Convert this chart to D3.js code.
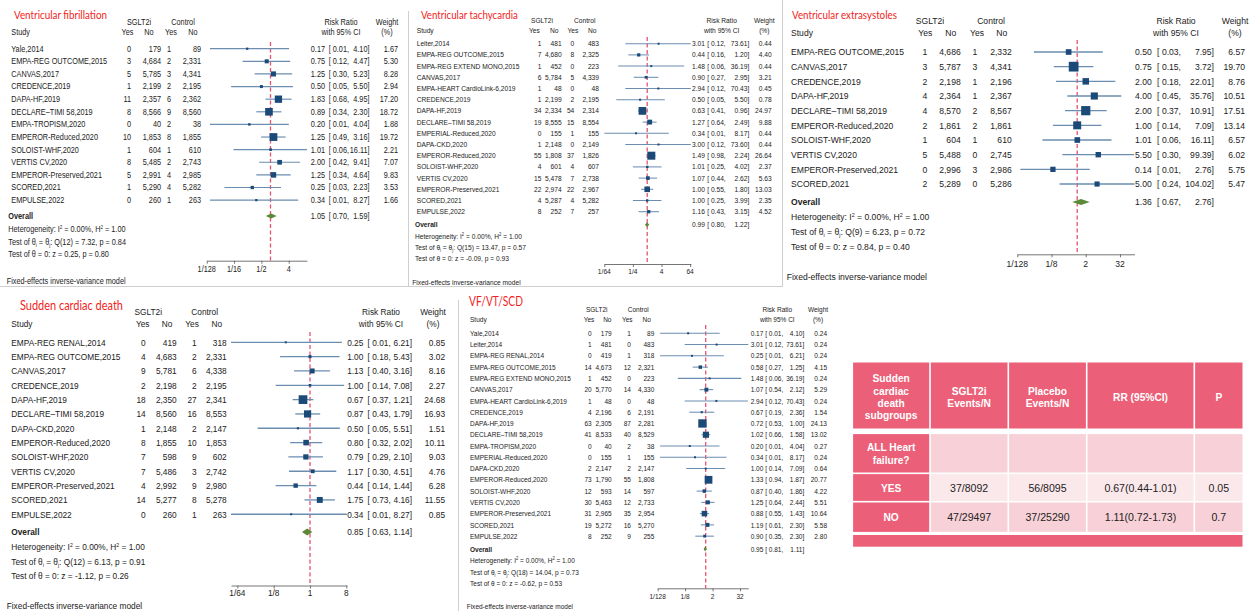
<!DOCTYPE html>
<html>
<head>
<meta charset="utf-8">
<script src="https://cdn.jsdelivr.net/npm/d3@7"></script>
<style>
  html, body { margin: 0; padding: 0; background: #fff; }
  svg { display: block; }
</style>
</head>
<body>
<svg id="chart" width="1255" height="611"></svg>
<script>
// ---------------- Ventricular fibrillation ----------------
const vfStudy = ["Yale,2014", "EMPA-REG OUTCOME,2015", "CANVAS,2017", "CREDENCE,2019", "DAPA-HF,2019",
  "DECLARE\u2013TIMI 58,2019", "EMPA-TROPISM,2020", "EMPEROR-Reduced,2020", "SOLOIST-WHF,2020",
  "VERTIS CV,2020", "EMPEROR-Preserved,2021", "SCORED,2021", "EMPULSE,2022"];
const vfSglt2iYes = [0, 3, 5, 1, 11, 8, 0, 10, 1, 8, 5, 1, 0];
const vfSglt2iNo = [179, 4684, 5785, 2199, 2357, 8566, 40, 1853, 604, 5485, 2991, 5290, 260];
const vfControlYes = [1, 2, 3, 2, 6, 9, 2, 8, 1, 2, 4, 4, 1];
const vfControlNo = [89, 2331, 4341, 2195, 2362, 8560, 38, 1855, 610, 2743, 2985, 5282, 263];
const vfRR = [0.17, 0.75, 1.25, 0.50, 1.83, 0.89, 0.20, 1.25, 1.01, 2.00, 1.25, 0.25, 0.34];
const vfLower = [0.01, 0.12, 0.30, 0.05, 0.68, 0.34, 0.01, 0.49, 0.06, 0.42, 0.34, 0.03, 0.01];
const vfUpper = [4.10, 4.47, 5.23, 5.50, 4.95, 2.30, 4.04, 3.16, 16.11, 9.41, 4.64, 2.23, 8.27];
const vfWeight = [1.67, 5.30, 8.28, 2.94, 17.20, 18.72, 1.88, 19.72, 2.21, 7.07, 9.83, 3.53, 1.66];
const vfOverall = [1.05, 0.70, 1.59];
const vfHeterogeneity = [0.00, 1.00];
const vfQTest = [12, 7.32, 0.84];
const vfZTest = [0.25, 0.80];
const vfTickLabels = ["1/128", "1/16", "1/2", "4"];

// ---------------- Ventricular tachycardia ----------------
const vtStudy = ["Leiter,2014", "EMPA-REG OUTCOME,2015", "EMPA-REG EXTEND MONO,2015", "CANVAS,2017",
  "EMPA-HEART CardioLink-6,2019", "CREDENCE,2019", "DAPA-HF,2019", "DECLARE\u2013TIMI 58,2019",
  "EMPERIAL-Reduced,2020", "DAPA-CKD,2020", "EMPEROR-Reduced,2020", "SOLOIST-WHF,2020",
  "VERTIS CV,2020", "EMPEROR-Preserved,2021", "SCORED,2021", "EMPULSE,2022"];
const vtSglt2iYes = [1, 7, 1, 6, 1, 1, 34, 19, 0, 1, 55, 4, 15, 22, 4, 8];
const vtSglt2iNo = [481, 4680, 452, 5784, 48, 2199, 2334, 8555, 155, 2148, 1808, 601, 5478, 2974, 5287, 252];
const vtControlYes = [0, 8, 0, 5, 0, 2, 54, 15, 1, 0, 37, 4, 7, 22, 4, 7];
const vtControlNo = [483, 2325, 223, 4339, 48, 2195, 2314, 8554, 155, 2149, 1826, 607, 2738, 2967, 5282, 257];
const vtRR = [3.01, 0.44, 1.48, 0.90, 2.94, 0.50, 0.63, 1.27, 0.34, 3.00, 1.49, 1.01, 1.07, 1.00, 1.00, 1.16];
const vtLower = [0.12, 0.16, 0.06, 0.27, 0.12, 0.05, 0.41, 0.64, 0.01, 0.12, 0.98, 0.25, 0.44, 0.55, 0.25, 0.43];
const vtUpper = [73.61, 1.20, 36.19, 2.95, 70.43, 5.50, 0.96, 2.49, 8.17, 73.60, 2.24, 4.02, 2.62, 1.80, 3.99, 3.15];
const vtWeight = [0.44, 4.40, 0.44, 3.21, 0.45, 0.78, 24.97, 9.88, 0.44, 0.44, 26.64, 2.37, 5.63, 13.03, 2.35, 4.52];
const vtOverall = [0.99, 0.80, 1.22];
const vtHeterogeneity = [0.00, 1.00];
const vtQTest = [15, 13.47, 0.57];
const vtZTest = [-0.09, 0.93];
const vtTickLabels = ["1/64", "1/4", "4", "64"];

// ---------------- Ventricular extrasystoles ----------------
const veStudy = ["EMPA-REG OUTCOME,2015", "CANVAS,2017", "CREDENCE,2019", "DAPA-HF,2019",
  "DECLARE\u2013TIMI 58,2019", "EMPEROR-Reduced,2020", "SOLOIST-WHF,2020", "VERTIS CV,2020",
  "EMPEROR-Preserved,2021", "SCORED,2021"];
const veSglt2iYes = [1, 3, 2, 4, 4, 2, 1, 5, 0, 2];
const veSglt2iNo = [4686, 5787, 2198, 2364, 8570, 1861, 604, 5488, 2996, 5289];
const veControlYes = [1, 3, 1, 1, 2, 2, 1, 0, 3, 0];
const veControlNo = [2332, 4341, 2196, 2367, 8567, 1861, 610, 2745, 2986, 5286];
const veRR = [0.50, 0.75, 2.00, 4.00, 2.00, 1.00, 1.01, 5.50, 0.14, 5.00];
const veLower = [0.03, 0.15, 0.18, 0.45, 0.37, 0.14, 0.06, 0.30, 0.01, 0.24];
const veUpper = [7.95, 3.72, 22.01, 35.76, 10.91, 7.09, 16.11, 99.39, 2.76, 104.02];
const veWeight = [6.57, 19.70, 8.76, 10.51, 17.51, 13.14, 6.57, 6.02, 5.75, 5.47];
const veOverall = [1.36, 0.67, 2.76];
const veHeterogeneity = [0.00, 1.00];
const veQTest = [9, 6.23, 0.72];
const veZTest = [0.84, 0.40];
const veTickLabels = ["1/128", "1/8", "2", "32"];

// ---------------- Sudden cardiac death ----------------
const scdStudy = ["EMPA-REG RENAL,2014", "EMPA-REG OUTCOME,2015", "CANVAS,2017", "CREDENCE,2019",
  "DAPA-HF,2019", "DECLARE\u2013TIMI 58,2019", "DAPA-CKD,2020", "EMPEROR-Reduced,2020",
  "SOLOIST-WHF,2020", "VERTIS CV,2020", "EMPEROR-Preserved,2021", "SCORED,2021", "EMPULSE,2022"];
const scdSglt2iYes = [0, 4, 9, 2, 18, 14, 1, 8, 7, 7, 4, 14, 0];
const scdSglt2iNo = [419, 4683, 5781, 2198, 2350, 8560, 2148, 1855, 598, 5486, 2992, 5277, 260];
const scdControlYes = [1, 2, 6, 2, 27, 16, 2, 10, 9, 3, 9, 8, 1];
const scdControlNo = [318, 2331, 4338, 2195, 2341, 8553, 2147, 1853, 602, 2742, 2980, 5278, 263];
const scdRR = [0.25, 1.00, 1.13, 1.00, 0.67, 0.87, 0.50, 0.80, 0.79, 1.17, 0.44, 1.75, 0.34];
const scdLower = [0.01, 0.18, 0.40, 0.14, 0.37, 0.43, 0.05, 0.32, 0.29, 0.30, 0.14, 0.73, 0.01];
const scdUpper = [6.21, 5.43, 3.16, 7.08, 1.21, 1.79, 5.51, 2.02, 2.10, 4.51, 1.44, 4.16, 8.27];
const scdWeight = [0.85, 3.02, 8.16, 2.27, 24.68, 16.93, 1.51, 10.11, 9.03, 4.76, 6.28, 11.55, 0.85];
const scdOverall = [0.85, 0.63, 1.14];
const scdHeterogeneity = [0.00, 1.00];
const scdQTest = [12, 6.13, 0.91];
const scdZTest = [-1.12, 0.26];
const scdTickLabels = ["1/64", "1/8", "1", "8"];

// ---------------- VF/VT/SCD composite ----------------
const compStudy = ["Yale,2014", "Leiter,2014", "EMPA-REG RENAL,2014", "EMPA-REG OUTCOME,2015",
  "EMPA-REG EXTEND MONO,2015", "CANVAS,2017", "EMPA-HEART CardioLink-6,2019", "CREDENCE,2019",
  "DAPA-HF,2019", "DECLARE\u2013TIMI 58,2019", "EMPA-TROPISM,2020", "EMPERIAL-Reduced,2020",
  "DAPA-CKD,2020", "EMPEROR-Reduced,2020", "SOLOIST-WHF,2020", "VERTIS CV,2020",
  "EMPEROR-Preserved,2021", "SCORED,2021", "EMPULSE,2022"];
const compSglt2iYes = [0, 1, 0, 14, 1, 20, 1, 4, 63, 41, 0, 0, 2, 73, 12, 30, 31, 19, 8];
const compSglt2iNo = [179, 481, 419, 4673, 452, 5770, 48, 2196, 2305, 8533, 40, 155, 2147, 1790, 593, 5463, 2965, 5272, 252];
const compControlYes = [1, 0, 1, 12, 0, 14, 0, 6, 87, 40, 2, 1, 2, 55, 14, 12, 35, 16, 9];
const compControlNo = [89, 483, 318, 2321, 223, 4330, 48, 2191, 2281, 8529, 38, 155, 2147, 1808, 597, 2733, 2954, 5270, 255];
const compRR = [0.17, 3.01, 0.25, 0.58, 1.48, 1.07, 2.94, 0.67, 0.72, 1.02, 0.20, 0.34, 1.00, 1.33, 0.87, 1.25, 0.88, 1.19, 0.90];
const compLower = [0.01, 0.12, 0.01, 0.27, 0.06, 0.54, 0.12, 0.19, 0.53, 0.66, 0.01, 0.01, 0.14, 0.94, 0.40, 0.64, 0.55, 0.61, 0.35];
const compUpper = [4.10, 73.61, 6.21, 1.25, 36.19, 2.12, 70.43, 2.36, 1.00, 1.58, 4.04, 8.17, 7.09, 1.87, 1.86, 2.44, 1.43, 2.30, 2.30];
const compWeight = [0.24, 0.24, 0.24, 4.15, 0.24, 5.29, 0.24, 1.54, 24.13, 13.02, 0.27, 0.24, 0.64, 20.77, 4.22, 5.51, 10.64, 5.58, 2.80];
const compOverall = [0.95, 0.81, 1.11];
const compHeterogeneity = [0.00, 1.00];
const compQTest = [18, 14.04, 0.73];
const compZTest = [-0.62, 0.53];
const compTickLabels = ["1/128", "1/8", "2", "32"];

// ---------------- Sudden cardiac death subgroup table ----------------
const tableHeader = [["Sudden", "cardiac", "death", "subgroups"], ["SGLT2i", "Events/N"], ["Placebo", "Events/N"], ["RR (95%CI)"], ["P"]];
const subgroupLabels = [["ALL Heart", "failure?"], ["YES"], ["NO"]];
const sglt2iEventsN = ["", "37/8092", "47/29497"];
const placeboEventsN = ["", "56/8095", "37/25290"];
const subgroupRR = ["", "0.67(0.44-1.01)", "1.11(0.72-1.73)"];
const subgroupP = ["", "0.05", "0.7"];

// ---------------- drawing ----------------
const SANS = "'Liberation Sans', Arial, Helvetica, sans-serif";
const TITLE_FONT = "Lato, 'Open Sans', sans-serif";
const INK = "#222";
const TITLE_RED = "#f21d1d";
const NULL_RED = "#e4546f";
const NAVY = "#1c4a78";
const CI_BLUE = "#6b8eb0";
const DIAMOND = "#5a8a35";
const RULE = "#cfcfcf";

const svg = d3.select("#chart");
// plain hyphen-minus for negative statistics
const locale = d3.formatLocale({ decimal: ".", thousands: ",", grouping: [3], currency: ["", ""], minus: "-" });
const fmt2 = locale.format(".2f");
const fmtN = locale.format(",");

function measure(s, fs, family, weight) {
  const t = svg.append("text").style("font-family", family).style("font-size", fs + "px")
    .style("font-weight", weight || "normal").text(s);
  const w = t.node().getComputedTextLength();
  t.remove();
  return w;
}

function addText(g, x, y, s, o) {
  return g.append("text")
    .attr("transform", `translate(${x},${y}) scale(${o.sx || 1},1)`)
    .attr("text-anchor", o.anchor || "start")
    .attr("y", 0.35 * o.fs)
    .style("font-family", o.family || SANS)
    .style("font-size", o.fs + "px")
    .style("font-weight", o.weight || "normal")
    .attr("fill", o.fill || INK)
    .text(s);
}

// text with superscripts / subscripts, parts = [[string, "sup" | "sub" | null], ...]
function addRich(g, x, y, parts, o) {
  const t = g.append("text")
    .attr("transform", `translate(${x},${y}) scale(${o.sx || 1},1)`)
    .attr("y", 0.35 * o.fs)
    .style("font-family", SANS)
    .style("font-size", o.fs + "px")
    .attr("fill", INK);
  let shift = 0;
  parts.forEach(([s, kind]) => {
    const target = kind === "sup" ? -0.4 * o.fs : kind === "sub" ? 0.22 * o.fs : 0;
    t.append("tspan").attr("dy", target - shift)
      .style("font-size", kind ? (0.62 * o.fs) + "px" : null).text(s);
    shift = target;
  });
  return t;
}

function tickValue(label) {
  const p = label.split("/").map(Number);
  return p.length === 2 ? p[0] / p[1] : p[0];
}

function drawForest(L, D) {
  const g = svg.append("g");
  const sx = L.refW / measure(L.refText, L.fs, SANS);
  const T = (x, y, s, anchor, extra) =>
    addText(g, x, y, s, Object.assign({ fs: L.fs, sx, anchor }, extra || {}));

  // title
  const tsx = L.titleW / measure(L.title, L.titleFs, TITLE_FONT);
  addText(g, L.titleX, L.titleY, L.title, { fs: L.titleFs, sx: tsx, family: TITLE_FONT, fill: TITLE_RED });

  // column headers
  T(L.hSglt, L.h1, "SGLT2i", "middle");
  T(L.hCtrl, L.h1, "Control", "middle");
  T(L.hRR, L.h1, "Risk Ratio", "middle");
  T(L.hW, L.h1, "Weight", "middle");
  T(L.studyX, L.h2, "Study");
  T(L.hYes1, L.h2, "Yes", "middle");
  T(L.hNo1, L.h2, "No", "middle");
  T(L.hYes2, L.h2, "Yes", "middle");
  T(L.hNo2, L.h2, "No", "middle");
  T(L.hRR, L.h2, "with 95% CI", "middle");
  T(L.hW, L.h2, "(%)", "middle");

  // log2 risk-ratio scale
  const x = d3.scaleLog().base(2)
    .domain([2 ** L.axLo, 2 ** L.axHi])
    .range([L.x1 + L.axLo * L.ppu, L.x1 + L.axHi * L.ppu]);
  const [dLo, dHi] = x.domain();
  const clamp = v => Math.min(dHi, Math.max(dLo, v));

  // line of no effect
  g.append("line")
    .attr("x1", x(1)).attr("x2", x(1))
    .attr("y1", L.dashTop).attr("y2", L.axisY)
    .attr("stroke", NULL_RED).attr("stroke-width", 1.3)
    .attr("stroke-dasharray", "4,2.5");

  const ciWidth = 0.14 * L.fs;
  D.study.forEach((name, i) => {
    const y = L.y0 + i * L.step;
    T(L.studyX, y, name);
    T(L.sYes, y, fmtN(D.tYes[i]), "end");
    T(L.sNo, y, fmtN(D.tNo[i]), "end");
    T(L.cYes, y, fmtN(D.cYes[i]), "end");
    T(L.cNo, y, fmtN(D.cNo[i]), "end");

    g.append("line")
      .attr("x1", x(clamp(D.lo[i]))).attr("x2", x(clamp(D.hi[i])))
      .attr("y1", y).attr("y2", y)
      .attr("stroke", CI_BLUE).attr("stroke-width", ciWidth);
    const side = Math.max(2, L.k * Math.sqrt(D.w[i]));
    g.append("rect")
      .attr("x", x(D.rr[i]) - side / 2).attr("y", y - side / 2)
      .attr("width", side).attr("height", side)
      .attr("fill", NAVY);

    T(L.rrR, y, fmt2(D.rr[i]), "end");
    T(L.loR, y, `[ ${fmt2(D.lo[i])},`, "end");
    T(L.hiR, y, `${fmt2(D.hi[i])}]`, "end");
    T(L.wR, y, fmt2(D.w[i]), "end");
  });

  // pooled estimate
  const [orr, olo, ohi] = D.overall;
  const yo = L.yOverall;
  T(L.sumX, yo, "Overall", "start", { weight: "bold" });
  g.append("polygon")
    .attr("points", [[x(olo), yo], [x(orr), yo - L.dh], [x(ohi), yo], [x(orr), yo + L.dh]]
      .map(p => p.join(",")).join(" "))
    .attr("fill", DIAMOND);
  T(L.rrR, yo, fmt2(orr), "end");
  T(L.loR, yo, `[ ${fmt2(olo)},`, "end");
  T(L.hiR, yo, `${fmt2(ohi)}]`, "end");

  // heterogeneity and tests
  const [i2, h2] = D.het;
  const [qdf, q, qp] = D.q;
  const [z, zp] = D.z;
  addRich(g, L.sumX, L.yStats[0], [["Heterogeneity: I"], ["2", "sup"], [` = ${fmt2(i2)}%, H`], ["2", "sup"], [` = ${fmt2(h2)}`]], { fs: L.fs, sx });
  addRich(g, L.sumX, L.yStats[1], [["Test of \u03b8"], ["i", "sub"], [" = \u03b8"], ["j", "sub"], [`: Q(${qdf}) = ${fmt2(q)}, p = ${fmt2(qp)}`]], { fs: L.fs, sx });
  addRich(g, L.sumX, L.yStats[2], [[`Test of \u03b8 = 0: z = ${fmt2(z)}, p = ${fmt2(zp)}`]], { fs: L.fs, sx });

  // axis
  const ticks = D.ticks.map(tickValue);
  const axis = d3.axisBottom(x).tickValues(ticks).tickFormat("").tickSize(3).tickSizeOuter(0);
  const ag = g.append("g").attr("transform", `translate(0,${L.axisY})`).call(axis);
  ag.select(".domain").attr("stroke", "#666").attr("stroke-width", 0.9);
  ag.selectAll(".tick line").attr("stroke", "#666").attr("stroke-width", 0.9);
  ticks.forEach((t, i) => T(x(t), L.tickY, D.ticks[i], "middle"));

  T(L.footX, L.footY, "Fixed-effects inverse-variance model");
}

const layouts = {
  vf: {
    title: "Ventricular fibrillation", titleX: 14, titleY: 15, titleFs: 12, titleW: 93,
    fs: 8.3, refW: 96, refText: "EMPA-REG OUTCOME,2015",
    h1: 22, h2: 32.3, studyX: 11.3, sumX: 8.3, footX: 6.7,
    sYes: 131, sNo: 161, cYes: 171, cNo: 201,
    hSglt: 139, hCtrl: 183, hYes1: 127.5, hNo1: 149, hYes2: 171, hNo2: 193,
    rrR: 325, loR: 349, hiR: 369.5, wR: 398, hRR: 341, hW: 387,
    y0: 48.7, step: 12.62, yOverall: 216, yStats: [229.3, 242, 254.3],
    axisY: 260.7, tickY: 268.7, footY: 280.7,
    x1: 270.5, ppu: 9.11, axLo: -7, axHi: 4, dashTop: 42, k: 1.76, dh: 2.5
  },
  vt: {
    title: "Ventricular tachycardia", titleX: 421, titleY: 15, titleFs: 12, titleW: 97,
    fs: 7.4, refW: 103, refText: "EMPA-REG EXTEND MONO,2015",
    h1: 20.7, h2: 30, studyX: 416.7, sumX: 415, footX: 412.3,
    sYes: 541.5, sNo: 561.7, cYes: 574.3, cNo: 599,
    hSglt: 542, hCtrl: 584.7, hYes1: 534.3, hNo1: 554.2, hYes2: 572.8, hNo2: 592.3,
    rrR: 705, loR: 725.7, hiR: 749.3, wR: 771.7, hRR: 721.7, hW: 764.3,
    y0: 43.7, step: 11.2, yOverall: 224.7, yStats: [236.3, 247.7, 258.3],
    axisY: 264, tickY: 271.3, footY: 282.7,
    x1: 647.2, ppu: 7.15, axLo: -6, axHi: 6.1, dashTop: 37, k: 1.55, dh: 2.4
  },
  ve: {
    title: "Ventricular extrasystoles", titleX: 792, titleY: 15, titleFs: 12, titleW: 105,
    fs: 9.6, refW: 113, refText: "EMPA-REG OUTCOME,2015",
    h1: 21, h2: 32.7, studyX: 791, sumX: 791, footX: 786.7,
    sYes: 927.3, sNo: 960.7, cYes: 977.3, cNo: 1011.7,
    hSglt: 930, hCtrl: 991, hYes1: 925.3, hNo1: 950.7, hYes2: 977, hNo2: 1001.7,
    rrR: 1151.7, loR: 1181, hiR: 1214, wR: 1245, hRR: 1176, hW: 1235,
    y0: 52, step: 14.67, yOverall: 202, yStats: [217, 231.7, 246.7],
    axisY: 254.3, tickY: 263.5, footY: 276.7,
    x1: 1077.2, ppu: 8.56, axLo: -7, axHi: 6.7, dashTop: 40, k: 2.2, dh: 3
  },
  scd: {
    title: "Sudden cardiac death", titleX: 20, titleY: 305, titleFs: 13, titleW: 103,
    fs: 9.4, refW: 109, refText: "EMPA-REG OUTCOME,2015",
    h1: 311.7, h2: 324, studyX: 11.3, sumX: 11.3, footX: 6.7,
    sYes: 145.7, sNo: 176.7, cYes: 196.7, cNo: 226.7,
    hSglt: 148.3, hCtrl: 204.7, hYes1: 142.7, hNo1: 167, hYes2: 192, hNo2: 216.7,
    rrR: 363.3, loR: 390.7, hiR: 412, wR: 445, hRR: 381, hW: 433,
    y0: 342.3, step: 14.33, yOverall: 532, yStats: [547, 561.7, 575.7],
    axisY: 585.5, tickY: 593, footY: 605.3,
    x1: 310, ppu: 12.1, axLo: -6.53, axHi: 3.05, dashTop: 332, k: 1.75, dh: 3.5
  },
  comp: {
    title: "VF/VT/SCD", titleX: 469, titleY: 301, titleFs: 13, titleW: 54,
    fs: 7.5, refW: 101, refText: "EMPA-REG EXTEND MONO,2015",
    h1: 309.7, h2: 319, studyX: 470, sumX: 470, footX: 466.7,
    sYes: 591.7, sNo: 611.7, cYes: 631, cNo: 654.3,
    hSglt: 596.7, hCtrl: 638.3, hYes1: 589, hNo1: 607.3, hYes2: 627.3, hNo2: 646.7,
    rrR: 763.3, loR: 783.3, hiR: 804.3, wR: 827, hRR: 777.3, hW: 818,
    y0: 333.3, step: 11.27, yOverall: 549, yStats: [560.3, 572.3, 583.3],
    axisY: 588.3, tickY: 596.7, footY: 606.7,
    x1: 705.7, ppu: 6.87, axLo: -7, axHi: 6.2, dashTop: 325, k: 1.7, dh: 2.5
  }
};

// panel frames
const frame = svg.append("g").attr("stroke", RULE).attr("stroke-width", 1);
frame.append("line").attr("x1", 0).attr("x2", 783).attr("y1", 286.5).attr("y2", 286.5);
frame.append("line").attr("x1", 408.5).attr("x2", 408.5).attr("y1", 11).attr("y2", 287);
frame.append("line").attr("x1", 782.5).attr("x2", 782.5).attr("y1", 0).attr("y2", 287);
frame.append("line").attr("x1", 458.5).attr("x2", 458.5).attr("y1", 300).attr("y2", 611);

drawForest(layouts.vf, { study: vfStudy, tYes: vfSglt2iYes, tNo: vfSglt2iNo, cYes: vfControlYes, cNo: vfControlNo,
  rr: vfRR, lo: vfLower, hi: vfUpper, w: vfWeight, overall: vfOverall, het: vfHeterogeneity, q: vfQTest, z: vfZTest, ticks: vfTickLabels });
drawForest(layouts.vt, { study: vtStudy, tYes: vtSglt2iYes, tNo: vtSglt2iNo, cYes: vtControlYes, cNo: vtControlNo,
  rr: vtRR, lo: vtLower, hi: vtUpper, w: vtWeight, overall: vtOverall, het: vtHeterogeneity, q: vtQTest, z: vtZTest, ticks: vtTickLabels });
drawForest(layouts.ve, { study: veStudy, tYes: veSglt2iYes, tNo: veSglt2iNo, cYes: veControlYes, cNo: veControlNo,
  rr: veRR, lo: veLower, hi: veUpper, w: veWeight, overall: veOverall, het: veHeterogeneity, q: veQTest, z: veZTest, ticks: veTickLabels });
drawForest(layouts.scd, { study: scdStudy, tYes: scdSglt2iYes, tNo: scdSglt2iNo, cYes: scdControlYes, cNo: scdControlNo,
  rr: scdRR, lo: scdLower, hi: scdUpper, w: scdWeight, overall: scdOverall, het: scdHeterogeneity, q: scdQTest, z: scdZTest, ticks: scdTickLabels });
drawForest(layouts.comp, { study: compStudy, tYes: compSglt2iYes, tNo: compSglt2iNo, cYes: compControlYes, cNo: compControlNo,
  rr: compRR, lo: compLower, hi: compUpper, w: compWeight, overall: compOverall, het: compHeterogeneity, q: compQTest, z: compZTest, ticks: compTickLabels });

// ---------------- subgroup table ----------------
(function drawTable() {
  const g = svg.append("g");
  const DARK = "#eb5f78", MID = "#f7d1d7", LIGHT = "#fbe8eb";
  const colEdges = [852.3, 930, 1008.3, 1086.7, 1194.3, 1243.3];
  const headRow = [361.7, 429.3];
  const bodyRows = [[433.3, 473.3], [473.3, 501.7], [501.7, 532.7]];
  const footRow = [535, 546.7];
  const bodyFill = [MID, LIGHT, MID];
  const gap = 0.8;
  const fs = 11.5;
  const sxBold = 52.7 / measure("subgroups", fs, SANS, "bold");
  const sxReg = 72.3 / measure("0.67(0.44-1.01)", fs, SANS);
  const cx = c => (colEdges[c] + colEdges[c + 1]) / 2;
  const cell = (c, [y0, y1], fill) => g.append("rect")
    .attr("x", colEdges[c] + gap).attr("y", y0 + gap)
    .attr("width", colEdges[c + 1] - colEdges[c] - 2 * gap).attr("height", y1 - y0 - 2 * gap)
    .attr("fill", fill);
  const lines = (c, yMid, arr, bold, fill) => {
    const lh = 12.4;
    arr.forEach((s, i) => addText(g, cx(c), yMid + (i - (arr.length - 1) / 2) * lh, s,
      { fs, sx: bold ? sxBold : sxReg, anchor: "middle", weight: bold ? "bold" : "normal", fill }));
  };

  // header row
  tableHeader.forEach((h, c) => {
    cell(c, headRow, DARK);
    lines(c, c === 0 ? 396.8 : 397, h, true, "#fff");
  });
  // body rows
  const bodyCols = [sglt2iEventsN, placeboEventsN, subgroupRR, subgroupP];
  subgroupLabels.forEach((lab, r) => {
    const span = bodyRows[r];
    const yMid = (span[0] + span[1]) / 2;
    cell(0, span, DARK);
    lines(0, yMid, lab, true, "#fff");
    bodyCols.forEach((col, j) => {
      cell(j + 1, span, bodyFill[r]);
      if (col[r]) lines(j + 1, yMid, [col[r]], false, "#222");
    });
  });
  // closing band
  g.append("rect").attr("x", colEdges[0] + gap).attr("y", footRow[0])
    .attr("width", colEdges[5] - colEdges[0] - 2 * gap).attr("height", footRow[1] - footRow[0])
    .attr("fill", DARK);
})();
</script>
</body>
</html>
